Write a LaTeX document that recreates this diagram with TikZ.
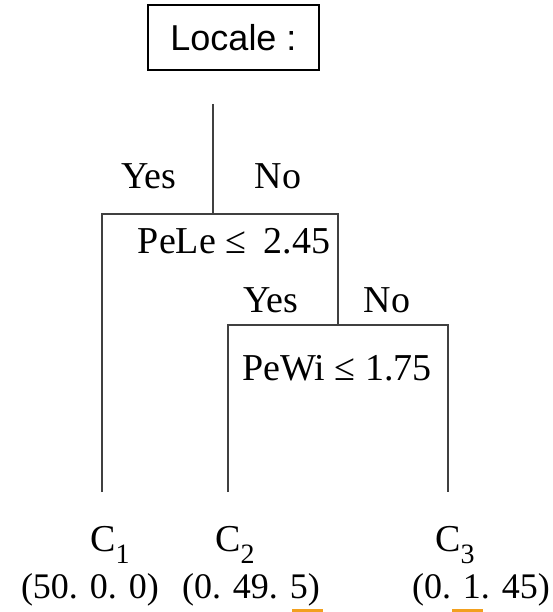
\documentclass[tikz,border=0pt]{standalone}
\usepackage{fontspec}
\setmainfont{Liberation Serif}
\setsansfont{Liberation Sans}
\usepackage{tikz}
\usepackage{xcolor}
\usetikzlibrary{arrows.meta}

\definecolor{markorange}{RGB}{242,160,30}
\newcommand{\leafname}[1]{C\raisebox{-0.32em}{\fontsize{28}{28}\selectfont #1}}

\begin{document}
\begin{tikzpicture}[
  x=1pt, y=-1pt,
  question/.style={draw, line width=1.2pt, minimum width=171pt, minimum height=65pt, inner sep=0pt, font=\sffamily\fontsize{36}{36}\selectfont},
  branch/.style={line width=1.3pt, draw=black!75},
  answer/.style={font=\fontsize{38}{38}\selectfont, inner sep=0pt},
  test/.style={font=\fontsize{38}{38}\selectfont, inner sep=0pt},
  leaf/.style={font=\fontsize{38}{38}\selectfont, inner sep=0pt},
  count/.style={font=\fontsize{36}{36}\selectfont, inner sep=0pt},
  underline mark/.style={line width=3pt, draw=markorange}
]
  \useasboundingbox (0,0) rectangle (553,612);

  % Root box
  \node[question] (locale) at (233.5,37.5) {Locale :};

  % Junctions of the tree
  \coordinate (rootTop)   at (213,104);
  \coordinate (rootJoint) at (213,214);
  \coordinate (split1)    at (338,214);
  \coordinate (split2)    at (338,325);
  \coordinate (end1)      at (102,492);
  \coordinate (end2)      at (228,492);
  \coordinate (end3)      at (448,492);

  % Branches
  \draw[branch] (rootTop) -- (rootJoint);
  \draw[branch] (end1) |- (split1) -- (split2);
  \draw[branch] (end2) |- (split2) -| (end3);

  % First test
  \node[answer] (yes1) at (149,176) {Yes};
  \node[answer] (no1)  at (278,176) {No};
  \node[test]   (pele) at (234,241) {PeLe ≤\hspace{0.45em}2.45};

  % Second test
  \node[answer] (yes2) at (271,300) {Yes};
  \node[answer] (no2)  at (387,300) {No};
  \node[test]   (pewi) at (337,368) {PeWi ≤ 1.75};

  % Leaves
  \node[leaf] (c1) at (110,545) {\leafname{1}};
  \node[leaf] (c2) at (235,545) {\leafname{2}};
  \node[leaf] (c3) at (455,545) {\leafname{3}};
  \node[count] (n1) at (90,590)  {(50. 0. 0)};
  \node[count] (n2) at (251,590) {(0. 49. 5)};
  \node[count] (n3) at (481,590) {(0. 1. 45)};

  % Orange marks under the counts
  \coordinate (m2a) at (292,610);
  \coordinate (m2b) at (323,610);
  \coordinate (m3a) at (452,610);
  \coordinate (m3b) at (483,610);
  \draw[underline mark] (m2a) -- (m2b);
  \draw[underline mark] (m3a) -- (m3b);
\end{tikzpicture}
\end{document}
